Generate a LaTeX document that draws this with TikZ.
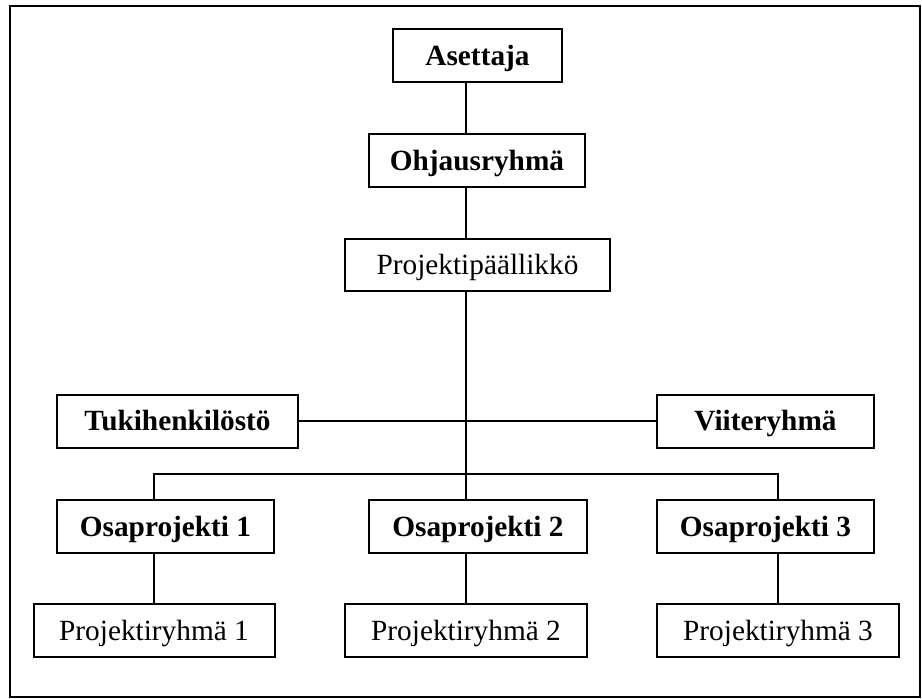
\documentclass[tikz,border=0pt]{standalone}
\usepackage{fontspec}
\setmainfont{Liberation Serif}
\begin{document}
\begin{tikzpicture}[x=1pt,y=-1pt,
  box/.style={draw, line width=2pt, inner sep=0pt, minimum height=53pt,
    text height=19pt, text depth=0pt, font=\fontsize{29.3}{34}\selectfont},
  bbox/.style={box, font=\fontsize{29.3}{34}\selectfont\bfseries},
  link/.style={line width=2pt}]
\useasboundingbox (0,0) rectangle (922,699);
% outer frame
\draw[line width=2pt] (10,6) rectangle (920,697);

% guide positions for the connector columns and the bus
\coordinate (trunk) at (466,0);
\coordinate (c1) at (154,0);
\coordinate (c3) at (778,0);
\coordinate (bus) at (0,474);

% boxes
\node[bbox, minimum width=169pt] (asettaja) at (477.5,55.5) {Asettaja};
\node[bbox, minimum width=216pt] (ohjaus) at (477,160.5) {Ohjausryhmä};
\node[box, minimum width=265pt, minimum height=52pt] (pp) at (477.5,265) {Projektipäällikkö};
\node[bbox, minimum width=241pt] (tuki) at (177.5,421) {Tukihenkilöstö};
\node[bbox, minimum width=217pt] (viite) at (765.5,421) {Viiteryhmä};
\node[bbox, minimum width=217pt] (osa1) at (165.5,526.5) {Osaprojekti 1};
\node[bbox, minimum width=218pt] (osa2) at (478,526.5) {Osaprojekti 2};
\node[bbox, minimum width=217pt] (osa3) at (765.5,526.5) {Osaprojekti 3};
\node[box, minimum width=241pt] (pr1) at (154,630.5) {Projektiryhmä 1};
\node[box, minimum width=242pt] (pr2) at (466,630.5) {Projektiryhmä 2};
\node[box, minimum width=242pt] (pr3) at (778,630.5) {Projektiryhmä 3};

% connectors
\draw[link] (asettaja.south -| trunk) -- (ohjaus.north -| trunk);
\draw[link] (ohjaus.south -| trunk) -- (pp.north -| trunk);
\draw[link] (pp.south -| trunk) -- (osa2.north -| trunk);
\draw[link] (tuki.east) -- (viite.west);
\draw[link] (osa1.north -| c1) |- (bus -| c3) -- (osa3.north -| c3);
\draw[link] (osa1.south -| c1) -- (pr1.north -| c1);
\draw[link] (osa2.south -| trunk) -- (pr2.north -| trunk);
\draw[link] (osa3.south -| c3) -- (pr3.north -| c3);
\end{tikzpicture}
\end{document}
